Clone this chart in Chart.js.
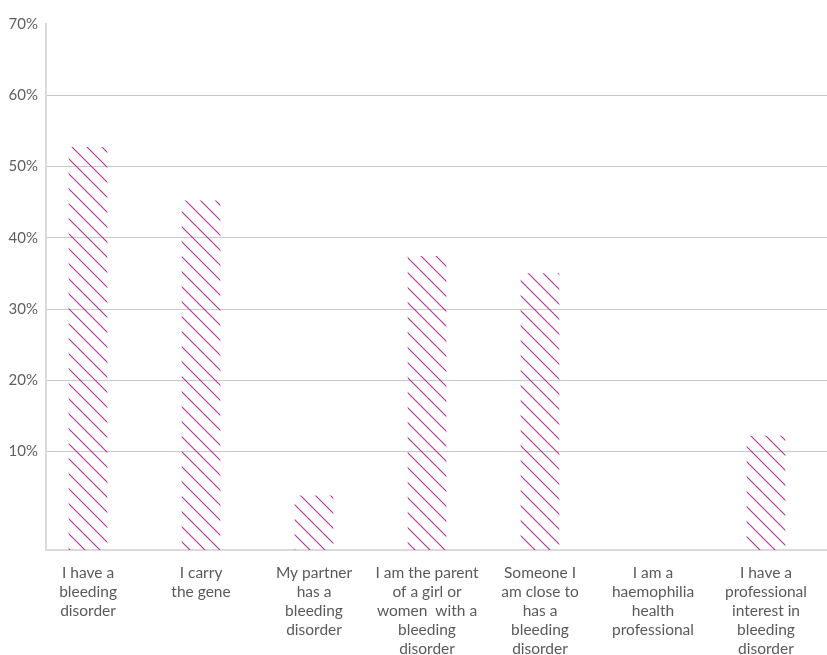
<!doctype html>
<html>
  <head>
    <meta charset="UTF-8">
    <title>Bleeding disorder survey</title>
    <script src="https://cdn.jsdelivr.net/npm/chart.js@4/dist/chart.umd.min.js"></script>
    <style>
      body {
        margin: 0;
        background: #fff;
      }
      #wrap {
        width: 827px;
        height: 655px;
      }
    </style>
  </head>
  <body>
    <div id="wrap">
      <canvas id="barChart"></canvas>
    </div>
    <script>
      // categories (multi-line labels), as printed under each bar
      var categories = [
        ["I have a", "bleeding", "disorder"],
        ["I carry", "the gene"],
        ["My partner", "has a", "bleeding", "disorder"],
        ["I am the parent", "of a girl or", "women  with a", "bleeding", "disorder"],
        ["Someone I", "am close to", "has a", "bleeding", "disorder"],
        ["I am a", "haemophilia", "health", "professional"],
        ["I have a", "professional", "interest in", "bleeding", "disorder"]
      ]
      var percents = [52.7, 45.2, 3.8, 37.4, 35.0, 0, 12.2]
      var yTicks = [10, 20, 30, 40, 50, 60, 70]
      var yMin = -3.8

      var hatchColor = '#b2329b'

      // diagonal hatch fill
      function makeHatch() {
        var size = 15
        var c = document.createElement('canvas')
        c.width = size
        c.height = size
        var g = c.getContext('2d')
        g.strokeStyle = hatchColor
        g.lineWidth = 1.1
        g.beginPath()
        g.moveTo(-2, -2); g.lineTo(size + 2, size + 2)
        g.moveTo(-2, size - 2); g.lineTo(2, size + 2)
        g.moveTo(size - 2, -2); g.lineTo(size + 2, 2)
        g.stroke()
        return g.createPattern(c, 'repeat')
      }

      var ctx = document.getElementById('barChart').getContext('2d')
      var hatch = makeHatch()
      var font = "Lato, 'Open Sans', sans-serif"

      var myBarChart = new Chart(ctx, {
        type: 'bar',
        data: {
          datasets: [{
            label: 'Respondents',
            data: percents.map(function(v, i) { return {x: i, y: v} }),
            base: yMin,
            barThickness: 38,
            borderWidth: 0,
            backgroundColor: function(c) {
              return c.raw && c.raw.y > 0 ? hatch : 'rgba(0,0,0,0)'
            }
          }]
        },
        options: {
          responsive: true,
          maintainAspectRatio: false,
          animation: false,
          layout: {
            padding: {top: 24, right: 0, left: 0, bottom: 0}
          },
          plugins: {
            legend: {display: false},
            tooltip: {enabled: false}
          },
          scales: {
            x: {
              type: 'linear',
              offset: false,
              min: -0.372,
              max: 6.54,
              afterBuildTicks: function(s) {
                s.ticks = categories.map(function(c, i) { return {value: i} })
              },
              afterFit: function(s) { s.height = 105 },
              grid: {display: false, drawTicks: false},
              border: {display: true, color: '#dadada', width: 2},
              ticks: {
                autoSkip: false,
                maxRotation: 0,
                padding: 13,
                color: '#5a5a5a',
                font: {family: font, size: 15.5, lineHeight: '19px'},
                callback: function(value) { return categories[value] || '' }
              }
            },
            y: {
              min: yMin,
              max: 70,
              afterBuildTicks: function(s) {
                s.ticks = yTicks.map(function(v) { return {value: v} })
              },
              afterFit: function(s) { s.width = 46 },
              grid: {
                drawTicks: false,
                lineWidth: 1,
                color: function(c) {
                  return c.tick && c.tick.value === 70 ? 'rgba(0,0,0,0)' : '#c8c8c8'
                }
              },
              border: {display: true, color: '#dadada', width: 2},
              ticks: {
                padding: 8,
                color: '#5f5f5f',
                font: {family: font, size: 15},
                callback: function(v) { return v + '%' }
              }
            }
          }
        }
      })
    </script>
  </body>
</html>
